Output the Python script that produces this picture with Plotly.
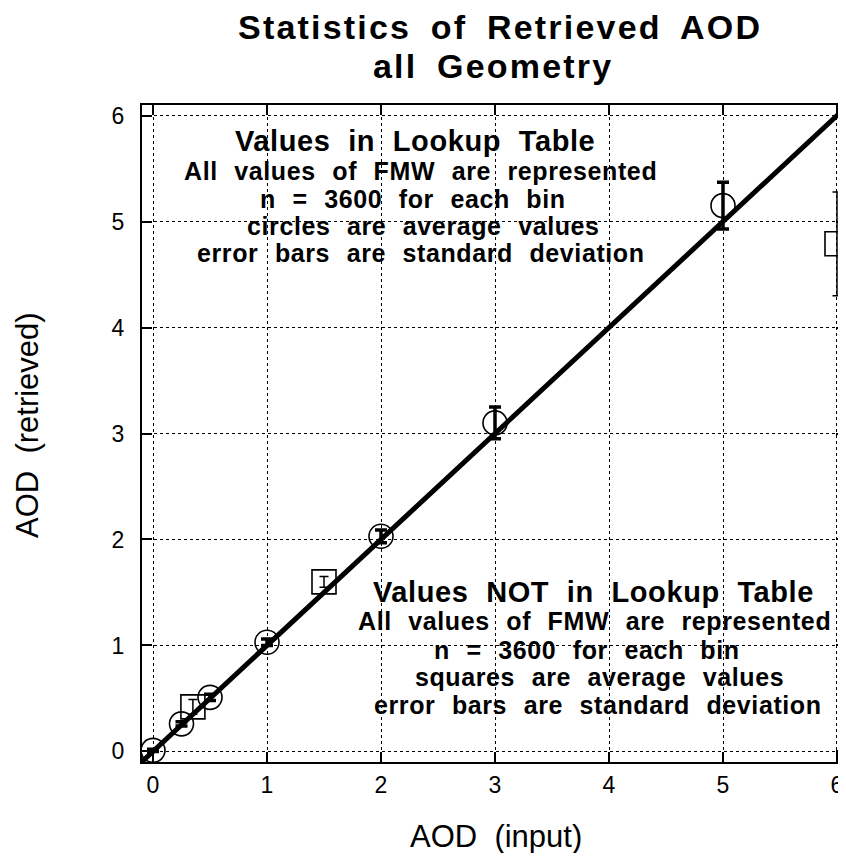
import plotly.graph_objects as go

# AOD values that are in the lookup table (circles)
lut_input = [0, 0.25, 0.5, 1, 2, 3, 5]
lut_mean = [0.01, 0.26, 0.51, 1.03, 2.03, 3.10, 5.15]
lut_std = [0.01, 0.02, 0.03, 0.03, 0.06, 0.15, 0.22]

# AOD values not in the lookup table (squares)
nolut_input = [0.35, 1.5, 6]
nolut_mean = [0.42, 1.60, 4.79]
nolut_std = [0.07, 0.05, 0.49]

one_to_one = [-0.1, 6.1]
ticks = [0, 1, 2, 3, 4, 5, 6]

lut_text = [
    "Values in Lookup Table",
    "All values of FMW are represented",
    "n = 3600 for each bin",
    "circles are average values",
    "error bars are standard deviation",
]
nolut_text = [
    "Values NOT in Lookup Table",
    "All values of FMW are represented",
    "n = 3600 for each bin",
    "squares are average values",
    "error bars are standard deviation",
]

FONT = "Liberation Sans, Arial, sans-serif"

# page body has an 8px margin, so the figure sits at (8, 8) in the window
OFF = 8
W, H = 846 - OFF, 861 - 2 * OFF
L, R, T, B = 142 - OFF, 0, 105 - OFF, H + OFF - 762


def px_to_paper(px, py):
    # px, py are window pixel positions
    px, py = px - OFF, py - OFF
    return (px - L) / (W - L - R), (H - B - py) / (H - T - B)


fig = go.Figure()

fig.add_trace(go.Scatter(
    x=one_to_one, y=one_to_one,
    mode='lines',
    line=dict(color='black', width=5),
    showlegend=False,
    hoverinfo='skip'
))

fig.add_trace(go.Scatter(
    x=lut_input, y=lut_mean,
    mode='markers',
    marker=dict(symbol='circle-open', size=24, color='black', line=dict(width=1.6)),
    error_y=dict(type='data', array=lut_std, color='black', thickness=3.5, width=6),
    showlegend=False
))

fig.add_trace(go.Scatter(
    x=nolut_input, y=nolut_mean,
    mode='markers',
    marker=dict(symbol='square-open', size=24, color='black', line=dict(width=1.6)),
    error_y=dict(type='data', array=nolut_std, color='black', thickness=1.5, width=4.5),
    showlegend=False
))

# text blocks (pixel centres of each line)
block1_x = [415, 420, 413, 423, 421]
block1_y = [141, 171, 199, 226, 253]
block2_x = [593, 594, 587, 599, 598]
block2_y = [592, 621, 650, 677, 705]
for lines, xs, ys in [(lut_text, block1_x, block1_y), (nolut_text, block2_x, block2_y)]:
    for i, (txt, cx, cy) in enumerate(zip(lines, xs, ys)):
        ax, ay = px_to_paper(cx, cy)
        fig.add_annotation(
            x=ax, y=ay, xref='paper', yref='paper',
            text=f"<b><span style='letter-spacing:0.6px;word-spacing:9px'>{txt}</span></b>",
            showarrow=False,
            xanchor='center', yanchor='middle',
            font=dict(family=FONT, size=29 if i == 0 else 25, color='black')
        )

# title
for txt, cx, cy in [("Statistics of Retrieved AOD", 500, 27), ("all Geometry", 493, 66)]:
    ax, ay = px_to_paper(cx, cy)
    fig.add_annotation(
        x=ax, y=ay, xref='paper', yref='paper',
        text=f"<b><span style='letter-spacing:2.2px;word-spacing:8px'>{txt}</span></b>",
        showarrow=False,
        xanchor='center', yanchor='middle',
        font=dict(family=FONT, size=34, color='black')
    )

# axis titles
ax, ay = px_to_paper(496, 836)
fig.add_annotation(x=ax, y=ay, xref='paper', yref='paper', text="AOD\u00a0 (input)",
                   showarrow=False, xanchor='center', yanchor='middle',
                   font=dict(family=FONT, size=31, color='black'))
ax, ay = px_to_paper(27, 425)
fig.add_annotation(x=ax, y=ay, xref='paper', yref='paper', text="AOD\u00a0 (retrieved)",
                   showarrow=False, xanchor='center', yanchor='middle', textangle=-90,
                   font=dict(family=FONT, size=31, color='black'))

axis_style = dict(
    tickvals=ticks,
    ticks='inside', ticklen=10, tickwidth=1.5, tickcolor='black',
    showline=True, linecolor='black', linewidth=2, mirror='ticks',
    showgrid=True, gridcolor='black', gridwidth=1, griddash='dot',
    zeroline=False, automargin=False, ticklabeloverflow='allow',
    tickfont=dict(family=FONT, size=23, color='black'),
)

fig.update_xaxes(range=[-0.0965, 6.079], ticklabelstandoff=1, **axis_style)
fig.update_yaxes(range=[-0.1, 6.1], ticklabelstandoff=11, **axis_style)

fig.update_layout(
    width=W, height=H,
    margin=dict(l=L, r=R, t=T, b=B, autoexpand=False),
    paper_bgcolor='white', plot_bgcolor='white',
)

fig.write_html("out.html")
